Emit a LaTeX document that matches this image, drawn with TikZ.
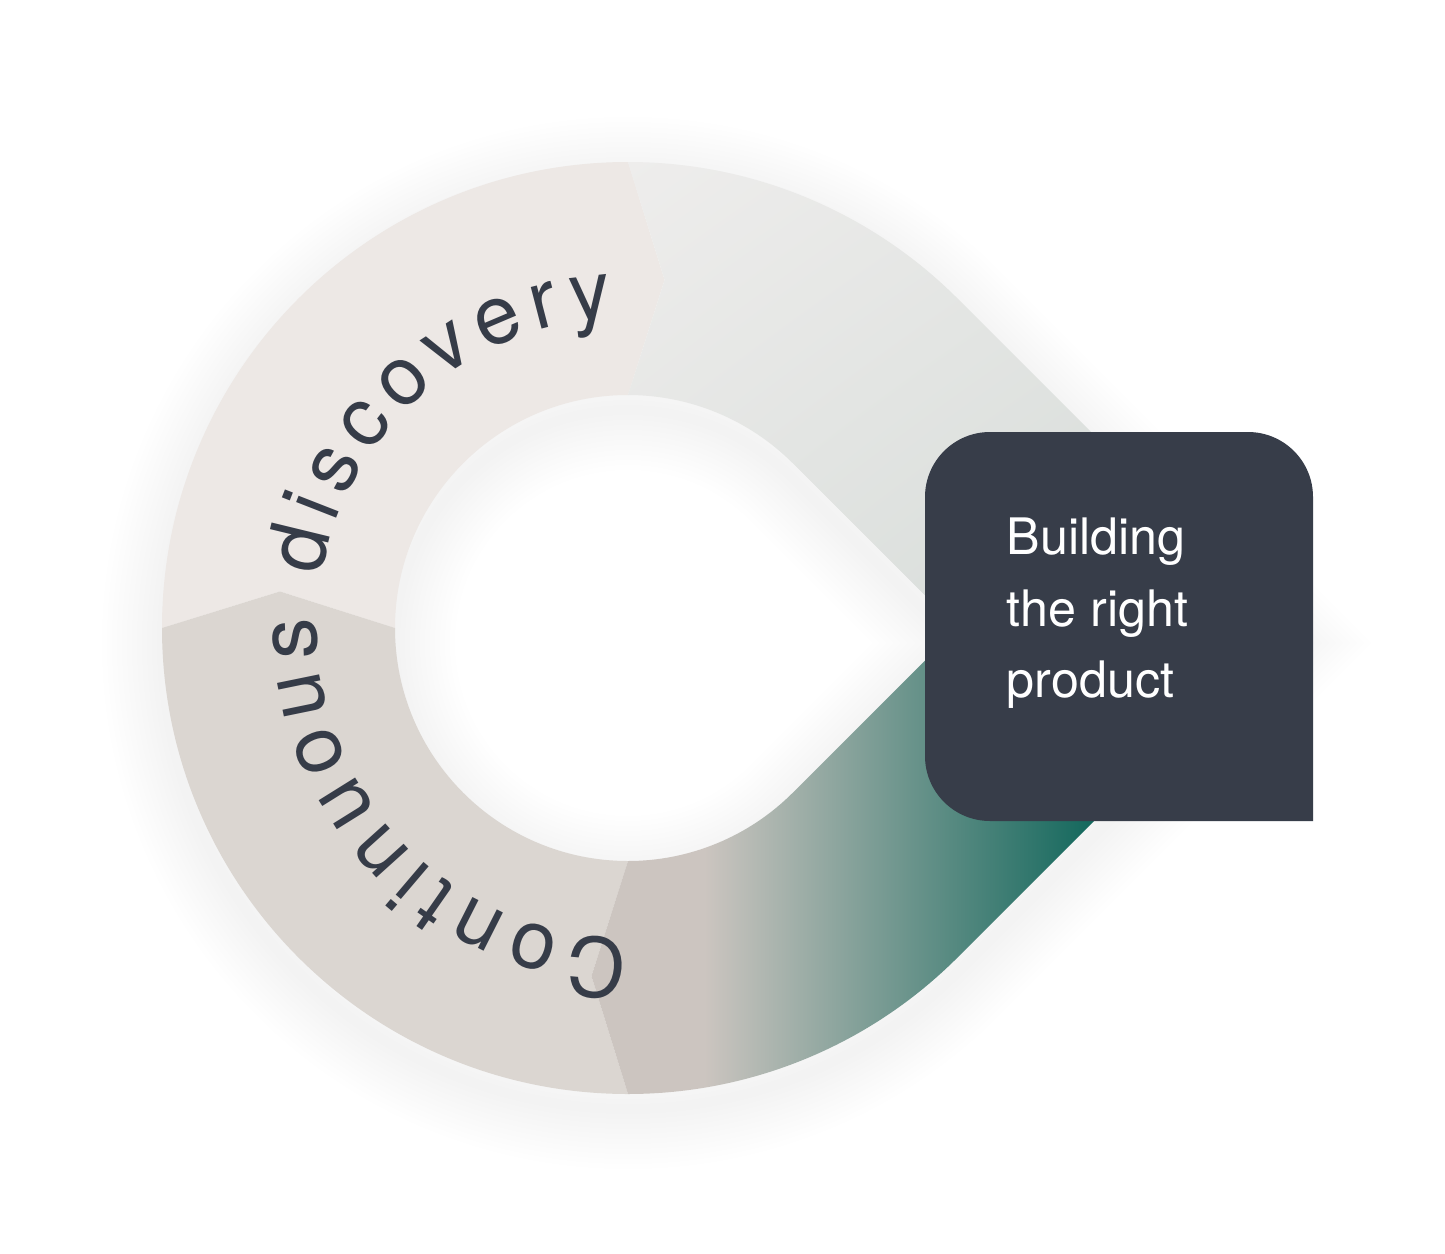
\documentclass[tikz,border=0pt]{standalone}
\usepackage{fontspec}
\setmainfont{TeX Gyre Heros}
\usetikzlibrary{decorations.text, shadings, calc}

\definecolor{slate}{HTML}{373D49}
\definecolor{ringink}{HTML}{363C48}
\definecolor{warmlight}{HTML}{EDE8E5}
\definecolor{warmmid}{HTML}{DBD6D1}
\definecolor{warmdark}{HTML}{CCC5C0}
\definecolor{deepteal}{HTML}{16695E}
\definecolor{greylight}{HTML}{EEEDEC}
\definecolor{greymid}{HTML}{E2E4E2}
\definecolor{greygreen}{HTML}{D2D9D5}

\pgfdeclarehorizontalshading{tealfade}{100bp}{%
  color(0bp)=(warmdark); color(36bp)=(warmdark);
  color(60bp)=(deepteal); color(100bp)=(deepteal)}

\newcommand{\ringfont}{\fontsize{23.3}{28}\selectfont}

\begin{document}
\begin{tikzpicture}[x=0.01cm, y=0.01cm,
    shadowline/.style={draw=black, draw opacity=0.0055},
    boxtext/.style={text=white, font=\fontsize{14.3}{20.3}\selectfont, align=left, inner sep=0pt}
]
    % Canvas
    \fill[white] (0,0) rectangle (1445,1253);

    \begin{scope}[shift={(628,625)}]
    % Soft shadow
    \foreach \w in {1,...,12} {
        \draw[shadowline, line width=\w*0.1cm, shift={(0,-15)}]
            (45:466) arc[start angle=45, end angle=315, radius=466] -- (659,0) -- cycle
            (45:233) arc[start angle=45, end angle=315, radius=233] -- (329.5,0) -- cycle;
    }

    % Ring segments
    \fill[warmlight] (180:233) -- (174:350) -- (180:466) arc[start angle=180, end angle=90, radius=466]
        -- (84:350) -- (90:233) arc[start angle=90, end angle=180, radius=233] -- cycle;
    \fill[warmmid] (270:233) -- (264:350) -- (270:466) arc[start angle=270, end angle=180, radius=466]
        -- (174:350) -- (180:233) arc[start angle=180, end angle=270, radius=233] -- cycle;
    \begin{scope}
        \clip (90:233) -- (84:350) -- (90:466) arc[start angle=90, end angle=45, radius=466]
            -- (659,0) -- (329.5,0) -- (45:233) arc[start angle=45, end angle=90, radius=233] -- cycle;
        \shade[upper left=greylight, upper right=greymid, lower left=greymid, lower right=greygreen]
            (0,0) rectangle (660,470);
    \end{scope}
    \begin{scope}
        \clip (329.5,0) -- (659,0) -- (-45:466) arc[start angle=-45, end angle=-90, radius=466]
            -- (-96:350) -- (-90:233) arc[start angle=-90, end angle=-45, radius=233] -- cycle;
        \shade[shading=tealfade] (-100,-470) rectangle (700,0);
    \end{scope}

    % Ring lettering
    \path[decorate, decoration={text along path, text align=fit to path, text color=ringink,
            text={|\ringfont|Continuous discovery}}]
        (270.2:311) arc[start angle=270.2, end angle=92.8, radius=311];
    \end{scope}

    % Label box
    \fill[slate] (1313,432) -- (990,432) arc[start angle=270, end angle=180, radius=65]
        -- (925,756) arc[start angle=180, end angle=90, radius=65]
        -- (1248,821) arc[start angle=90, end angle=0, radius=65] -- cycle;
    \node[boxtext, anchor=west] (callouttext) at (1006, 639.5) {Building\\the right\\product};
\end{tikzpicture}
\end{document}
